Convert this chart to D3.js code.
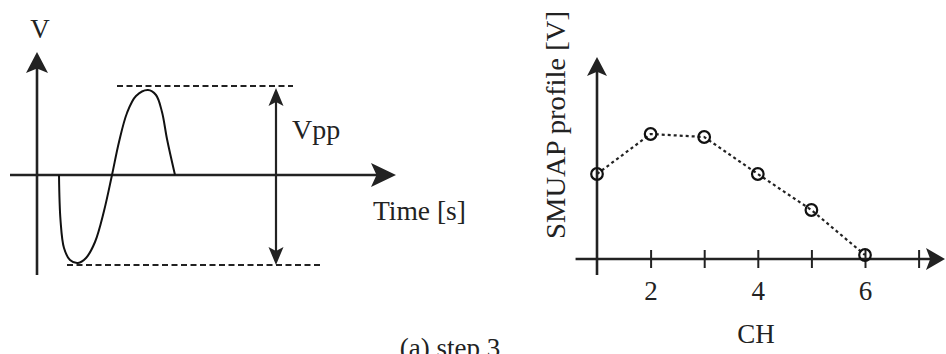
<!DOCTYPE html>
<html>
<head>
<meta charset="utf-8">
<script src="https://cdn.jsdelivr.net/npm/d3@7"></script>
<style>
  html, body { margin: 0; padding: 0; background: #fff; }
  svg { display: block; }
  text { font-family: "Liberation Serif", "Times New Roman", serif; fill: #222; }
</style>
</head>
<body>
<svg id="chart" width="946" height="354"></svg>
<script>
// ---------------- DATA ----------------
// Left panel: sketched SMUAP waveform (time units, voltage units)
const waveT = [2.2, 2.35, 2.7, 3.3, 4.1, 4.9, 5.8, 6.7, 7.5, 8.2, 9.0, 9.9, 11.1, 11.9, 12.5, 13.0, 13.8];
const waveV = [0, -4.5, -7.3, -8.5, -8.8, -8.3, -6.7, -3.6, 0, 3.3, 6.2, 7.9, 8.5, 8.0, 6.3, 3.6, 0];
const vppTop = 8.9;       // upper dashed level
const vppBottom = -9.0;   // lower dashed level
const vppTopSpan = [8.0, 25.6];    // time extent of upper dashed line
const vppBottomSpan = [3.0, 28.3]; // time extent of lower dashed line
const vppArrowT = 23.9;            // time position of Vpp arrow

// Right panel: SMUAP profile per channel
const channels = [1, 2, 3, 4, 5, 6];
const profile = [0.85, 1.25, 1.22, 0.85, 0.49, 0.04];
const chTicks = [2, 3, 4, 5, 6, 7];
const chTickLabels = ["2", "", "4", "", "6", ""];

// ---------------- DRAW ----------------
const svg = d3.select("#chart");
const ink = "#222";
const serif = '"Liberation Serif", "Times New Roman", serif';

function arrowHead(g, x, y, dir, len, half) {
  const notch = len * 0.22;
  let pts;
  if (dir === "up") pts = [[x, y], [x - half, y + len], [x, y + len - notch], [x + half, y + len]];
  else if (dir === "down") pts = [[x, y], [x - half, y - len], [x, y - len + notch], [x + half, y - len]];
  else pts = [[x, y], [x - len, y - half], [x - len + notch, y], [x - len, y + half]];
  g.append("path").attr("d", "M" + pts.map(p => p.join(",")).join("L") + "Z").attr("fill", ink);
}

// ---- Left panel ----
const xL = d3.scaleLinear().domain([0, 36]).range([37, 397]);
const yL = d3.scaleLinear().domain([-10, 12]).range([275, 55]);
const gL = svg.append("g");

gL.append("line").attr("x1", xL(-2.7)).attr("x2", xL(35.5)).attr("y1", yL(0)).attr("y2", yL(0))
  .attr("stroke", ink).attr("stroke-width", 2.6);
gL.append("line").attr("x1", xL(0)).attr("x2", xL(0)).attr("y1", yL(-10)).attr("y2", yL(11.5))
  .attr("stroke", ink).attr("stroke-width", 2.6);
arrowHead(gL, xL(0), yL(12.3), "up", 21, 11);
arrowHead(gL, xL(35.9), yL(0), "right", 25, 12);

gL.append("line").attr("x1", xL(vppTopSpan[0])).attr("x2", xL(vppTopSpan[1]))
  .attr("y1", yL(vppTop)).attr("y2", yL(vppTop))
  .attr("stroke", ink).attr("stroke-width", 2).attr("stroke-dasharray", "6,3.5");
gL.append("line").attr("x1", xL(vppBottomSpan[0])).attr("x2", xL(vppBottomSpan[1]))
  .attr("y1", yL(vppBottom)).attr("y2", yL(vppBottom))
  .attr("stroke", ink).attr("stroke-width", 2).attr("stroke-dasharray", "6,3.5");

gL.append("line").attr("x1", xL(vppArrowT)).attr("x2", xL(vppArrowT))
  .attr("y1", yL(vppTop) + 10).attr("y2", yL(vppBottom) - 10)
  .attr("stroke", ink).attr("stroke-width", 2.2);
arrowHead(gL, xL(vppArrowT), yL(vppTop) + 2, "up", 18, 7.5);
arrowHead(gL, xL(vppArrowT), yL(vppBottom), "down", 18, 7.5);

const wave = waveT.map((t, i) => [t, waveV[i]]);
gL.append("path").datum(wave)
  .attr("d", d3.line().x(d => xL(d[0])).y(d => yL(d[1])).curve(d3.curveCatmullRom.alpha(0.5)))
  .attr("fill", "none").attr("stroke", "#111").attr("stroke-width", 2);

gL.append("text").attr("x", 40).attr("y", 38).attr("text-anchor", "middle").attr("font-size", 27).text("V");
gL.append("text").attr("x", 292).attr("y", 139).attr("font-size", 28).text("Vpp");
gL.append("text").attr("x", 373).attr("y", 220).attr("font-size", 27.5).text("Time [s]");

// ---- Right panel ----
const xR = d3.scaleLinear().domain([1, 6]).range([597, 865]);
const yR = d3.scaleLinear().domain([0, 2]).range([259, 59]);
const gR = svg.append("g");

gR.append("line").attr("x1", xR(0.6)).attr("x2", xR(7.3)).attr("y1", yR(0)).attr("y2", yR(0))
  .attr("stroke", ink).attr("stroke-width", 2.6);
gR.append("line").attr("x1", xR(1)).attr("x2", xR(1)).attr("y1", yR(-0.16)).attr("y2", yR(1.9))
  .attr("stroke", ink).attr("stroke-width", 2.6);
arrowHead(gR, xR(1), yR(2.02), "up", 19, 10);
arrowHead(gR, 945, yR(0), "right", 19, 11);

const axisG = gR.append("g").attr("transform", `translate(0,${yR(0) + 9})`)
  .call(d3.axisBottom(xR).tickValues(chTicks).tickSize(18).tickSizeOuter(0)
    .tickFormat((d, i) => chTickLabels[i]));
axisG.attr("font-family", null).attr("font-size", null);
axisG.select(".domain").remove();
axisG.selectAll(".tick line").attr("y1", 0).attr("y2", -18).attr("stroke", ink).attr("stroke-width", 2);
axisG.selectAll(".tick text").attr("y", 32).attr("dy", 0)
  .style("font-family", serif).style("font-size", "27px").attr("fill", ink);

const pts = channels.map((c, i) => [c, profile[i]]);
gR.append("path").datum(pts)
  .attr("d", d3.line().x(d => xR(d[0])).y(d => yR(d[1])))
  .attr("fill", "none").attr("stroke", "#222").attr("stroke-width", 2.2).attr("stroke-dasharray", "3,3");
gR.selectAll("circle").data(pts).join("circle")
  .attr("cx", d => xR(d[0])).attr("cy", d => yR(d[1])).attr("r", 5.8)
  .attr("fill", "none").attr("stroke", "#111").attr("stroke-width", 2.2);

gR.append("text").attr("x", 756).attr("y", 343).attr("text-anchor", "middle").attr("font-size", 27).text("CH");
gR.append("text").attr("transform", "translate(565,125) rotate(-90)")
  .attr("text-anchor", "middle").attr("font-size", 27).attr("textLength", 228)
  .attr("lengthAdjust", "spacingAndGlyphs").text("SMUAP profile [V]");

svg.append("text").attr("x", 450).attr("y", 357).attr("text-anchor", "middle").attr("font-size", 27).text("(a) step 3");
</script>
</body>
</html>
